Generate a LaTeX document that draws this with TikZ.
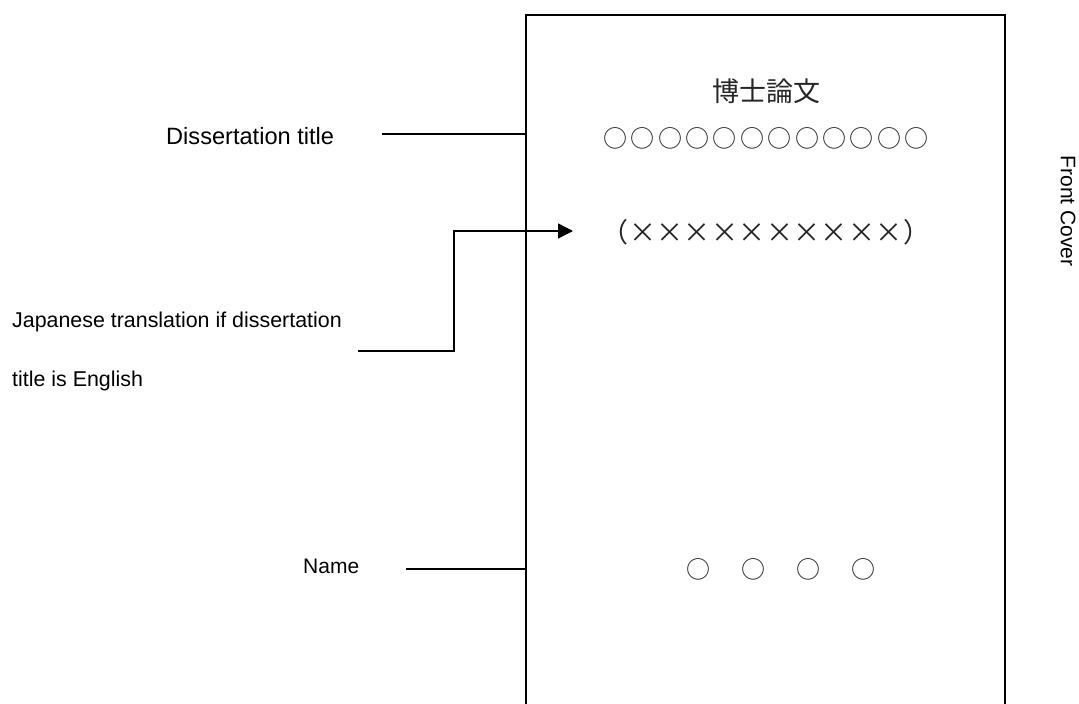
\documentclass[tikz,border=0pt]{standalone}
\usepackage{fontspec}
\setmainfont{Liberation Sans}
\newfontfamily\cjk{Noto Sans CJK JP}
\usetikzlibrary{arrows.meta}
\newcommand{\fw}[1]{\makebox[27.4pt]{#1}}
\tikzset{
  frame/.style={draw=black, line width=1.3pt},
  lead/.style={draw=black, line width=1.3pt},
  arr/.style={lead, -{Triangle[length=15pt,width=15pt]}},
  lbl/.style={inner sep=0pt, anchor=base west},
  jp/.style={inner sep=0pt, anchor=center, text=black!85, font=\cjk\fontsize{27}{30}\selectfont},
  jpc/.style={jp, font=\cjk\fontsize{24}{30}\selectfont},
}
\begin{document}
\begin{tikzpicture}[x=1pt,y=-1pt]
\useasboundingbox (0,0) rectangle (1079,704);
% cover outline (open at the bottom)
\draw[frame] (526,706) -- (526,15) -- (1005,15) -- (1005,706);

% cover contents
\node[jp] (title) at (766,91) {博士論文};
\node[jpc] (circles) at (766,138) {\fw{○}\fw{○}\fw{○}\fw{○}\fw{○}\fw{○}\fw{○}\fw{○}\fw{○}\fw{○}\fw{○}\fw{○}};
\node[jp] (trans) at (766,232) {\fw{（}\fw{×}\fw{×}\fw{×}\fw{×}\fw{×}\fw{×}\fw{×}\fw{×}\fw{×}\fw{×}\fw{）}};
\node[jpc] (name) at (781,569) {\fw{○}\fw{　}\fw{○}\fw{　}\fw{○}\fw{　}\fw{○}};

% side label
\node[inner sep=0pt, rotate=-90, font=\fontsize{21}{24}\selectfont] (front) at (1068,211) {Front Cover};

% left labels
\node[lbl, font=\fontsize{23.6}{26}\selectfont] (dtitle) at (166,144) {Dissertation title};
\node[lbl, font=\fontsize{21.4}{24}\selectfont] (jtrans1) at (12,327) {Japanese translation if dissertation};
\node[lbl, font=\fontsize{21.4}{24}\selectfont] (jtrans2) at (12,386) {title is English};
\node[lbl, font=\fontsize{21}{24}\selectfont] (nlabel) at (303,573) {Name};

% connectors
\coordinate (dtA) at (382,134);
\coordinate (dtB) at (526,134);
\coordinate (jA) at (358,351);
\coordinate (jBend) at (454,231);
\coordinate (jTip) at (573,231);
\coordinate (nA) at (406,569);
\coordinate (nB) at (526,569);
\draw[lead] (dtA) -- (dtB);
\draw[arr] (jA) -| (jBend) -- (jTip);
\draw[lead] (nA) -- (nB);
\end{tikzpicture}
\end{document}
